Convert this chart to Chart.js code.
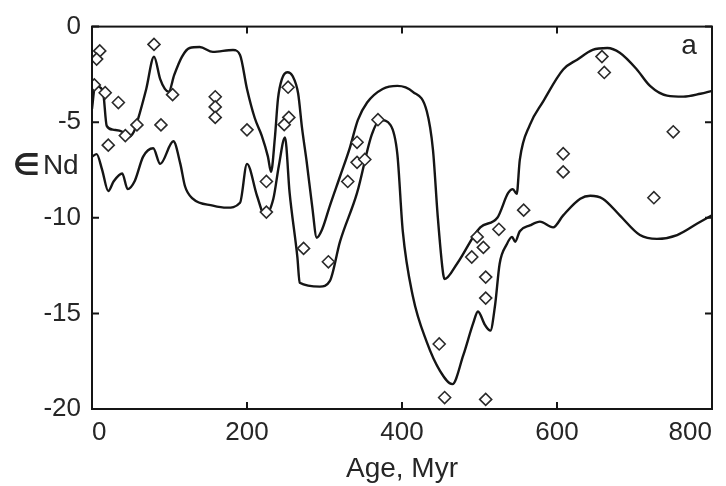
<!DOCTYPE html>
<html>
<head>
<meta charset="utf-8">
<script src="https://cdn.jsdelivr.net/npm/chart.js@4"></script>
<style>
  html, body { margin: 0; padding: 0; background: #fff; }
  #wrap { width: 726px; height: 486px; }
</style>
</head>
<body>
<div id="wrap"><canvas id="endChart" width="726" height="486"></canvas></div>
<script>
// upper envelope (age in Myr, eNd)
var ageUpper = [0, 4, 14, 19, 27, 39, 46, 54, 59, 70, 80, 88, 94, 99, 106, 116, 126, 139, 156, 182,
    191, 200, 210, 219, 227, 231, 236, 240, 245, 252, 259, 266, 271, 277, 284, 290, 297, 307, 320, 333,
    343, 355, 375, 394, 414, 432, 440, 446, 453, 455, 471, 501, 523, 537, 543, 548, 552, 565, 582, 608,
    626, 646, 665, 681, 703, 720, 742, 763, 785, 800];
var endUpper = [-4.3, -3.1, -3.36, -5.19, -5.39, -5.5, -5.8, -5.5, -4.89, -3.26, -1.58, -2.75, -3.26, -3.41, -2.54, -1.58, -1.12, -1.07, -1.32, -1.22,
    -1.48, -3.26, -4.78, -5.7, -6.8, -7.6, -5.8, -3.77, -2.75, -2.39, -2.6, -3.5, -5.3, -7.07, -9.36, -11.04, -10.6, -9.36, -7.84, -6.3,
    -4.89, -3.97, -3.26, -3.1, -3.41, -4.43, -6.46, -9.87, -12.9, -13.2, -12.4, -10.5, -10.0, -8.7, -8.5, -8.75, -6.97, -5.14, -3.92, -2.24,
    -1.73, -1.22, -1.12, -1.37, -2.24, -3.1, -3.61, -3.66, -3.51, -3.36];

// lower envelope
var ageLower = [0, 6, 13, 21, 28, 39, 46, 55, 66, 79, 88, 105, 114, 120, 130, 156, 174, 191, 200, 213,
    223, 234, 241, 249, 255, 265, 268, 294, 307, 320, 342, 361, 372, 385, 394, 401, 414, 432, 449, 465,
    479, 492, 498, 507, 514, 520, 526, 535, 542, 546, 552, 565, 578, 595, 608, 630, 643, 659, 681, 707,
    729, 755, 781, 800];
var endLower = [-6.8, -6.67, -7.48, -8.6, -8.09, -7.68, -8.5, -8.09, -6.8, -6.36, -7.18, -6.0, -7.18, -8.35, -9.0, -9.36, -9.47, -9.21, -7.18, -8.86,
    -9.87, -9.0, -7.3, -5.8, -8.7, -12.06, -13.4, -13.6, -13.3, -11.25, -8.7, -5.65, -4.89, -5.14, -6.67, -10.7, -14.1, -16.5, -18.0, -18.7,
    -17.2, -15.5, -14.9, -15.6, -15.9, -14.6, -12.4, -11.4, -11.0, -11.25, -10.7, -10.4, -10.2, -10.5, -9.87, -9.0, -8.85, -9.0, -9.87, -10.9,
    -11.1, -10.9, -10.3, -9.87];

// measured samples
var sampleAge = [10, 6, 3, 17, 34, 58, 43, 21, 80, 104, 89, 159, 159, 159, 200, 225, 225, 253, 254, 248,
    273, 342, 342, 352, 330, 369, 305, 448, 455, 508, 497, 490, 505, 508, 508, 525, 557, 658, 661, 608,
    608, 750, 725];
var sampleEnd = [-1.27, -1.7, -3.05, -3.46, -3.97, -5.14, -5.7, -6.2, -0.93, -3.56, -5.14, -3.67, -4.2, -4.75, -5.4, -8.1, -9.7, -3.17, -4.75, -5.13,
    -11.6, -6.05, -7.1, -6.95, -8.1, -4.87, -12.3, -16.6, -19.4, -19.5, -11.0, -12.05, -11.55, -13.1, -14.2, -10.6, -9.6, -1.57, -2.4, -6.65,
    -7.6, -5.5, -8.95];

var xTicks = [0, 200, 400, 600, 800];
var yTicks = [0, -5, -10, -15, -20];

function toPoints(xs, ys) {
    return xs.map(function (x, i) { return {x: x, y: ys[i]}; });
}

var ink = '#151515';
var textColor = '#262626';
var fontFamily = '"Liberation Sans", Arial, Helvetica, sans-serif';

// frame, inside ticks and the two free labels
var framePlugin = {
    id: 'frame',
    afterDraw: function (chart) {
        var ctx = chart.ctx;
        var a = chart.chartArea;
        var xs = chart.scales.x, ys = chart.scales.y;
        ctx.save();
        ctx.strokeStyle = ink;
        ctx.lineWidth = 2;
        ctx.strokeRect(a.left, a.top, a.right - a.left, a.bottom - a.top);
        var len = 7;
        ctx.beginPath();
        xTicks.forEach(function (v) {
            var px = xs.getPixelForValue(v);
            ctx.moveTo(px, a.bottom); ctx.lineTo(px, a.bottom - len);
            ctx.moveTo(px, a.top); ctx.lineTo(px, a.top + len);
        });
        yTicks.forEach(function (v) {
            var py = ys.getPixelForValue(v);
            ctx.moveTo(a.left, py); ctx.lineTo(a.left + len, py);
            ctx.moveTo(a.right, py); ctx.lineTo(a.right - len, py);
        });
        ctx.stroke();

        // y label: epsilon-Nd, written flat beside the axis
        var ly = ys.getPixelForValue(-7.3);
        ctx.fillStyle = textColor;
        ctx.textBaseline = 'middle';
        ctx.textAlign = 'left';
        ctx.font = 'bold 30px "DejaVu Sans", sans-serif';
        ctx.fillText('\u2208', 13, ly + 1);
        var w = ctx.measureText('\u2208').width;
        ctx.font = '28px ' + fontFamily;
        ctx.fillText('Nd', 13 + w + 3, ly);
        ctx.textAlign = 'center';
        ctx.fillText('a', a.right - 23, a.top + 20);
        ctx.restore();
    }
};

new Chart(document.getElementById('endChart').getContext('2d'), {
    type: 'scatter',
    data: {
        datasets: [
            {
                label: 'samples',
                data: toPoints(sampleAge, sampleEnd),
                pointStyle: 'rectRot',
                pointRadius: 6,
                pointBorderWidth: 1.6,
                pointBorderColor: '#2a2a2a',
                pointBackgroundColor: '#ffffff',
                showLine: false
            },
            {
                label: 'upper',
                data: toPoints(ageUpper, endUpper),
                showLine: true,
                borderColor: ink,
                borderWidth: 2.4,
                pointRadius: 0,
                cubicInterpolationMode: 'monotone'
            },
            {
                label: 'lower',
                data: toPoints(ageLower, endLower),
                showLine: true,
                borderColor: ink,
                borderWidth: 2.4,
                pointRadius: 0,
                cubicInterpolationMode: 'monotone'
            }
        ]
    },
    options: {
        responsive: false,
        animation: false,
        events: [],
        layout: { padding: { top: 16, right: 14, left: 0, bottom: 0 } },
        plugins: { legend: { display: false }, tooltip: { enabled: false } },
        scales: {
            x: {
                type: 'linear',
                min: 0,
                max: 800,
                grid: { display: false, drawTicks: false },
                border: { display: false },
                afterFit: function (scale) { scale.height = 77; },
                ticks: {
                    stepSize: 200,
                    align: 'inner',
                    padding: 8,
                    color: textColor,
                    font: { family: fontFamily, size: 26 }
                },
                title: {
                    display: true,
                    text: 'Age, Myr',
                    color: textColor,
                    padding: { top: 0, bottom: 0 },
                    font: { family: fontFamily, size: 28 }
                }
            },
            y: {
                type: 'linear',
                min: -20,
                max: 0,
                grid: { display: false, drawTicks: false },
                border: { display: false },
                afterFit: function (scale) { scale.width = 92; },
                ticks: {
                    stepSize: 5,
                    padding: 11,
                    color: textColor,
                    font: { family: fontFamily, size: 26 }
                }
            }
        }
    },
    plugins: [framePlugin]
});
</script>
</body>
</html>
